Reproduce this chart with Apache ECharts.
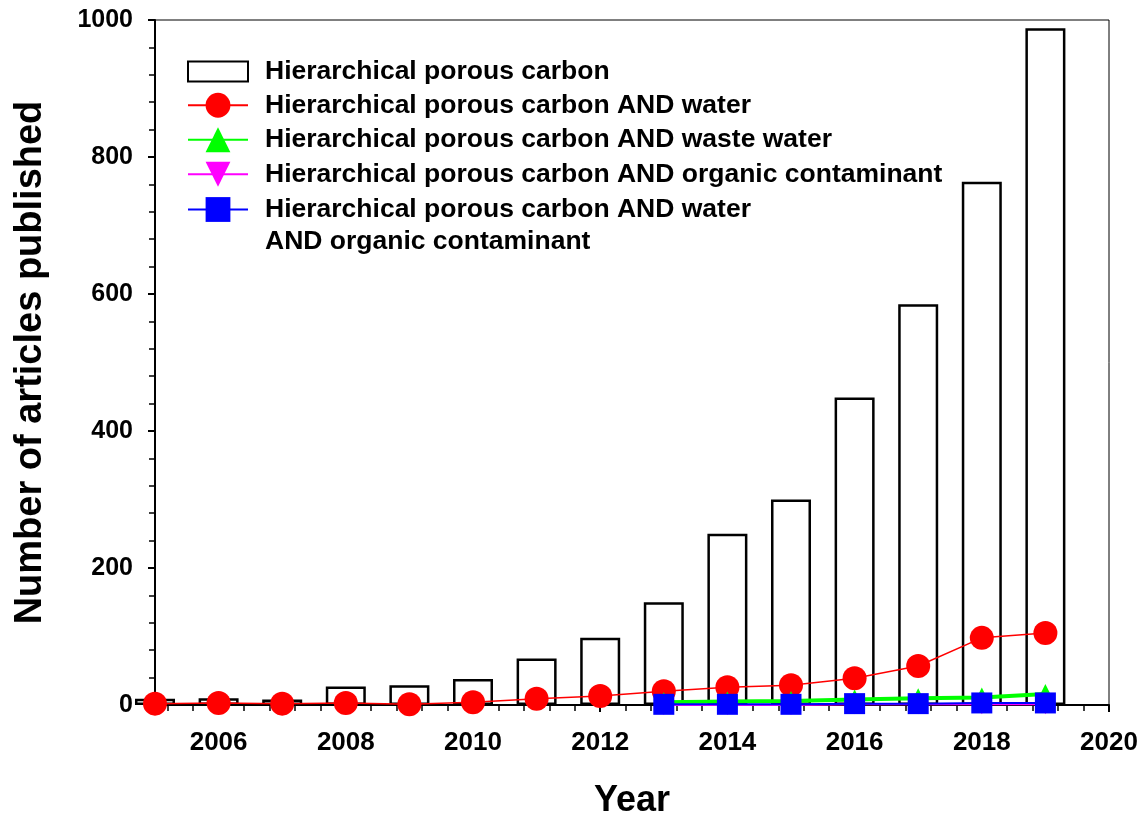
<!DOCTYPE html>
<html>
<head>
<meta charset="utf-8">
<script src="https://cdn.jsdelivr.net/npm/echarts@6/dist/echarts.min.js"></script>
<style>html,body{margin:0;padding:0;background:#fff;}#c{width:1142px;height:824px;}</style>
</head>
<body>
<div id="c"></div>
<script>
const years = [2005,2006,2007,2008,2009,2010,2011,2012,2013,2014,2015,2016,2017,2018,2019];
const hpc = [9,10,8,27,29,38,68,98,150,250,300,449,585,764,988];
const hpcWater = [2,3,2,3,1,4,9,13,20,26,29,39,57,98,105];
const yearsLate = [2013,2014,2015,2016,2017,2018,2019];
const hpcWasteWater = [4,5,6,8,10,11,16];
const hpcOrganic = [0,0,0,1,1,1,1];
const hpcWaterOrganic = [1,1,1,2,2,3,3];
const names = [
  'Hierarchical porous carbon',
  'Hierarchical porous carbon AND water',
  'Hierarchical porous carbon AND waste water',
  'Hierarchical porous carbon AND organic contaminant',
  'Hierarchical porous carbon AND water AND organic contaminant'
];
const lastLegendLabel = 'Hierarchical porous carbon AND water\nAND organic contaminant';
const pair = (xs, ys) => xs.map((x, i) => [x, ys[i]]);
const FONT = 'Liberation Sans, Arial, sans-serif';
const legendText = {fontFamily: FONT, fontWeight: 'bold', fontSize: 26.5, color: '#000', lineHeight: 34.5, padding: [0,0,0,12]};

const chart = echarts.init(document.getElementById('c'), null, {renderer: 'canvas'});
chart.setOption({
  animation: false,
  backgroundColor: '#fff',
  grid: {left: 155, right: 33, top: 20, bottom: 117, show: true, borderColor: '#000', borderWidth: 1, backgroundColor: 'transparent'},
  legend: [
    {data: [{name: names[0], icon: 'rect'}], orient: 'vertical', left: 187, top: 54.25, padding: 0,
     itemWidth: 60, itemHeight: 20, textStyle: legendText},
    {data: [names[1], names[2], names[3]], orient: 'vertical', left: 187, top: 88, padding: 0,
     itemWidth: 60, itemHeight: 31, itemGap: 0, textStyle: legendText},
    {data: [names[4]], orient: 'vertical', left: 187, top: 161.5, padding: 0,
     itemWidth: 60, itemHeight: 31,
     formatter: () => '\n' + lastLegendLabel,
     textStyle: Object.assign({}, legendText, {lineHeight: 32})}
  ],
  xAxis: {
    type: 'value', min: 2005, max: 2020, splitNumber: 8,
    name: 'Year', nameLocation: 'middle', nameGap: 78,
    nameTextStyle: {fontFamily: FONT, fontWeight: 'bold', fontSize: 36, color: '#000'},
    axisLine: {lineStyle: {color: '#000', width: 2}},
    axisTick: {show: true, length: 7, lineStyle: {color: '#000', width: 2}},
    minorTick: {show: true, splitNumber: 5, length: 6, lineStyle: {color: '#000', width: 1.5}},
    splitLine: {show: false},
    axisLabel: {fontFamily: FONT, fontWeight: 'bold', fontSize: 26, color: '#000', margin: 25,
      formatter: v => (v % 2 === 0 ? String(v) : '')}
  },
  yAxis: {
    type: 'value', min: 0, max: 1000, interval: 200,
    name: 'Number of articles published', nameLocation: 'middle', nameGap: 105,
    nameTextStyle: {fontFamily: FONT, fontWeight: 'bold', fontSize: 38, color: '#000'},
    axisLine: {show: true, lineStyle: {color: '#000', width: 2}},
    axisTick: {show: true, length: 7, lineStyle: {color: '#000', width: 2}},
    minorTick: {show: true, splitNumber: 5, length: 6, lineStyle: {color: '#000', width: 1.5}},
    splitLine: {show: false},
    axisLabel: {fontFamily: FONT, fontWeight: 'bold', fontSize: 25, color: '#000', margin: 22,
      formatter: v => String(v)}
  },
  series: [
    {name: names[0], type: 'bar', data: pair(years, hpc), barWidth: 40,
     itemStyle: {color: '#fff', borderColor: '#000', borderWidth: 2.5}},
    {name: names[1], type: 'line', data: pair(years, hpcWater), symbol: 'circle', symbolSize: 24,
     itemStyle: {color: '#ff0000'}, lineStyle: {color: '#ff0000', width: 1.5}},
    {name: names[2], type: 'line', data: pair(yearsLate, hpcWasteWater), symbol: 'triangle', symbolSize: 20,
     itemStyle: {color: '#00ff00'}, lineStyle: {color: '#00ff00', width: 4}},
    {name: names[3], type: 'line', data: pair(yearsLate, hpcOrganic), symbol: 'triangle', symbolRotate: 180, symbolSize: 20,
     itemStyle: {color: '#ff00ff'}, lineStyle: {color: '#ff00ff', width: 2}},
    {name: names[4], type: 'line', data: pair(yearsLate, hpcWaterOrganic), symbol: 'rect', symbolSize: 21,
     itemStyle: {color: '#0000ff'}, lineStyle: {color: '#0000ff', width: 2}}
  ]
});
</script>
</body>
</html>
